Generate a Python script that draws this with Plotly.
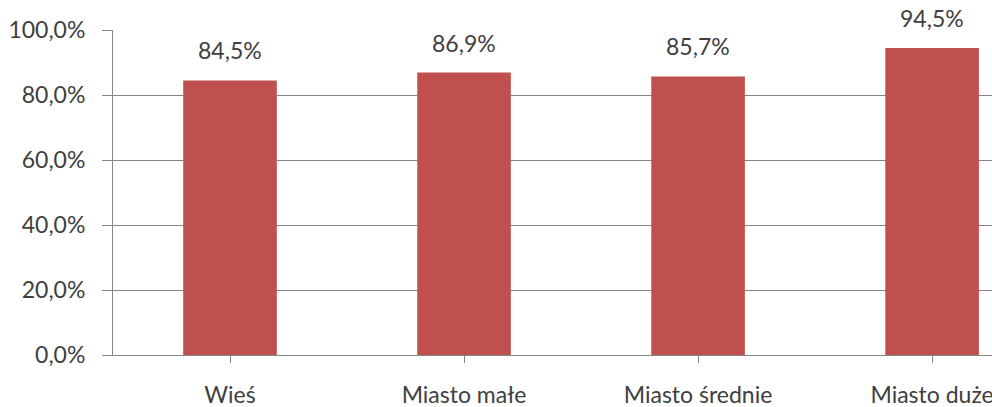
import plotly.graph_objects as go

categories = ["Wieś", "Miasto małe", "Miasto średnie", "Miasto duże"]
values = [84.5, 86.9, 85.7, 94.5]
y_ticks = [0, 20, 40, 60, 80, 100]

BAR = "#C0504D"
TXT = "#404040"
AX = "#868686"
FONT = "Lato, Carlito, 'Liberation Sans', sans-serif"
FS = 23

fig = go.Figure()
fig.add_trace(go.Bar(
    x=list(range(len(categories))),
    y=values,
    marker=dict(color=BAR, line=dict(width=0)),
    hoverinfo="skip",
))

for i, v in enumerate(values):
    fig.add_annotation(
        x=i, y=v, text=f"{v:.1f}%".replace(".", ","),
        showarrow=False, yanchor="bottom", yshift=14,
        font=dict(family=FONT, size=FS, color=TXT),
    )

fig.update_layout(
    width=992, height=407,
    margin=dict(l=113, r=0, t=30, b=52, autoexpand=False),
    paper_bgcolor="white", plot_bgcolor="white",
    separators=", ",
    showlegend=False,
    bargap=0.6,
    font=dict(family=FONT, size=FS, color=TXT),
)
fig.update_xaxes(
    tickmode="array",
    tickvals=list(range(len(categories))),
    ticktext=categories,
    range=[-0.5, 3.256],
    tickson="boundaries",
    ticks="outside", ticklen=7, tickcolor=AX, tickwidth=1,
    showline=True, linecolor=AX, linewidth=1,
    showgrid=False,
    automargin=False,
    ticklabeloverflow="allow",
    ticklabelstandoff=12,
    tickfont=dict(family=FONT, size=FS, color=TXT),
)
fig.update_yaxes(
    range=[0, 100],
    tickmode="array", tickvals=y_ticks,
    ticktext=[f"{t:.1f}%".replace(".", ",") for t in y_ticks],
    ticks="outside", ticklen=10, tickcolor=AX, tickwidth=1,
    showline=True, linecolor=AX, linewidth=1,
    showgrid=True, gridcolor=AX, gridwidth=1,
    zeroline=False,
    automargin=False,
    ticklabeloverflow="allow",
    ticklabelstandoff=12,
    tickfont=dict(family=FONT, size=FS, color=TXT),
)

fig.write_html(
    "out.html",
    config={"displayModeBar": False},
    post_script="document.body.style.margin='0';document.body.style.overflow='hidden';",
)
